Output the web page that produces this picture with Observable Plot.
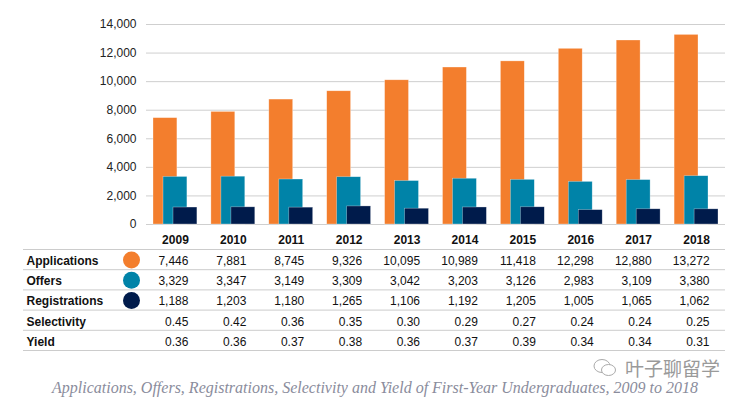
<!DOCTYPE html>
<html>
<head>
<meta charset="utf-8">
<script src="https://cdn.jsdelivr.net/npm/d3@7"></script>
<script src="https://cdn.jsdelivr.net/npm/@observablehq/plot@0.6"></script>
<style>
  html, body { margin: 0; padding: 0; background: #fff; }
  #wrap { position: relative; width: 740px; height: 399px; overflow: hidden; }
  #chart { position: absolute; left: 0; top: 0; }
  #table { position: absolute; left: 0; top: 248px; }
  #caption { position: absolute; left: 0; width: 750px; top: 380px; text-align: center; line-height: 16px;
    font-family: "Liberation Serif", "DejaVu Serif", serif; font-style: italic; font-size: 16px; color: #8a8c9c; }
  #mark { position: absolute; left: 593px; top: 358px; display: flex; align-items: center; gap: 8px; line-height: 20px; height: 20px;
    font-family: "Noto Sans CJK SC", sans-serif; font-size: 19px; color: #9a9a9a; }
</style>
</head>
<body>
<div id="wrap">
  <div id="chart"></div>
  <div id="table"></div>
  <div id="mark">
    <svg width="24" height="20" viewBox="0 0 24 20"><ellipse cx="9" cy="8" rx="8" ry="6.5" fill="none" stroke="#aaa" stroke-width="1"/><ellipse cx="15.5" cy="12" rx="7" ry="5.5" fill="#fff" stroke="#aaa" stroke-width="1"/></svg>
    <span>叶子聊留学</span>
  </div>
  <div id="caption">Applications, Offers, Registrations, Selectivity and Yield of First-Year Undergraduates, 2009 to 2018</div>
</div>
<script>
const years = [2009, 2010, 2011, 2012, 2013, 2014, 2015, 2016, 2017, 2018];
const applications = [7446, 7881, 8745, 9326, 10095, 10989, 11418, 12298, 12880, 13272];
const offers = [3329, 3347, 3149, 3309, 3042, 3203, 3126, 2983, 3109, 3380];
const registrations = [1188, 1203, 1180, 1265, 1106, 1192, 1205, 1005, 1065, 1062];
const selectivity = [0.45, 0.42, 0.36, 0.35, 0.30, 0.29, 0.27, 0.24, 0.24, 0.25];
const yieldRate = [0.36, 0.36, 0.37, 0.38, 0.36, 0.37, 0.39, 0.34, 0.34, 0.31];
const rowLabels = ["Applications", "Offers", "Registrations", "Selectivity", "Yield"];
const seriesColors = ["#F37E2D", "#0083A8", "#001B4B"];
const yTicks = [0, 2000, 4000, 6000, 8000, 10000, 12000, 14000];

const font = "'Liberation Sans', Arial, Helvetica, sans-serif";
const series = [applications, offers, registrations];
const insets = [[7, 27], [17, 17], [27, 7]];

const barMarks = series.map((vals, s) =>
  Plot.barY(years.map((yr, i) => ({year: yr, value: vals[i]})), {
    x: "year", y: "value", fill: seriesColors[s],
    insetLeft: insets[s][0], insetRight: insets[s][1],
    stroke: "#fff", strokeWidth: 0.6, strokeOpacity: 0.5
  })
);

const chart = Plot.plot({
  width: 740, height: 248,
  marginLeft: 146, marginRight: 15, marginTop: 24, marginBottom: 24,
  style: {fontFamily: font, fontSize: "12px", color: "#111", background: "transparent"},
  x: {type: "band", domain: years, padding: 0, round: false, label: null},
  y: {domain: [0, 14000], label: null},
  marks: [
    Plot.gridY(yTicks, {stroke: "#cfcfcf", strokeOpacity: 1, strokeWidth: 1}),
    ...barMarks,
    Plot.axisY(yTicks, {tickSize: 0, tickPadding: 10, tickFormat: d3.format(","), label: null, fill: "#222"}),
    Plot.axisX({tickSize: 0, tickPadding: 11, fontWeight: "bold", label: null, fill: "#111", tickFormat: d => String(d)})
  ]
});
document.getElementById("chart").appendChild(chart);

const rowValues = [applications, offers, registrations, selectivity, yieldRate];
const fmtCount = d3.format(",");
const fmtRatio = d3.format(".2f");
const cells = rowValues.flatMap((vals, r) =>
  years.map((yr, i) => ({year: yr, row: r + 0.5, text: r < 3 ? fmtCount(vals[i]) : fmtRatio(vals[i])}))
);

const table = Plot.plot({
  width: 740, height: 106,
  marginLeft: 23, marginRight: 15, marginTop: 1, marginBottom: 4,
  style: {fontFamily: font, fontSize: "12px", color: "#111", background: "transparent"},
  x: {type: "band", domain: years, range: [146, 725], padding: 0, round: false, axis: null},
  y: {domain: [0, rowLabels.length], range: [1, 102], axis: null},
  color: {type: "identity"},
  marks: [
    Plot.ruleY(d3.range(rowLabels.length + 1), {stroke: "#cccccc", strokeWidth: 1}),
    Plot.text(rowLabels, {y: (d, i) => i + 0.5, text: d => d, frameAnchor: "left", dx: 3, dy: 1.5, textAnchor: "start", fontWeight: "bold", fill: "#111"}),
    Plot.dot(seriesColors, {y: (d, i) => i + 0.5, fill: d => d, r: 8.5, frameAnchor: "left", dx: 108, dy: 0.5}),
    Plot.text(cells, {x: "year", y: "row", text: "text", textAnchor: "end", dx: 13, dy: 1.5, fill: "#111"})
  ]
});
document.getElementById("table").appendChild(table);
</script>
</body>
</html>
